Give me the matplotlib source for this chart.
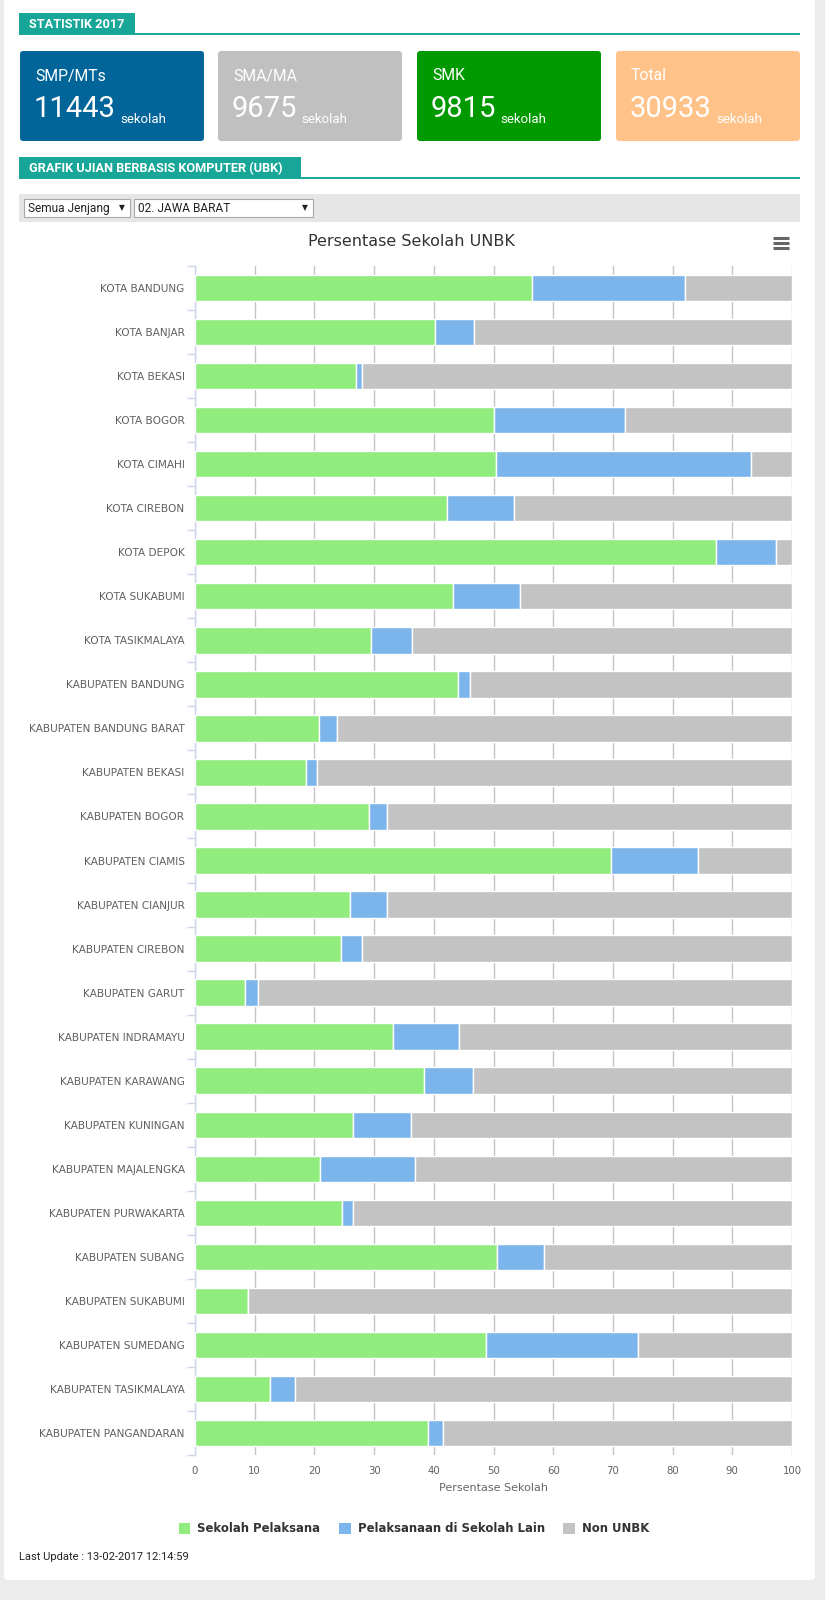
"""
Statistik 2017 dashboard: UNBK school percentage per kota/kabupaten (Jawa Barat).
Output: out.png (825 x 1600 px)
"""

import matplotlib
matplotlib.use("Agg")
import matplotlib.pyplot as plt
from matplotlib.patches import Rectangle, FancyBboxPatch
import numpy as np


W, H = 825, 1600

# summary boxes
BOX_LABELS = ["SMP/MTs", "SMA/MA", "SMK", "Total"]
BOX_VALUES = [11443, 9675, 9815, 30933]
BOX_COLORS = ["#02659a", "#c0c0c0", "#009a00", "#ffc288"]

CATEGORIES = [
    "KOTA BANDUNG", "KOTA BANJAR", "KOTA BEKASI", "KOTA BOGOR", "KOTA CIMAHI",
    "KOTA CIREBON", "KOTA DEPOK", "KOTA SUKABUMI", "KOTA TASIKMALAYA",
    "KABUPATEN BANDUNG", "KABUPATEN BANDUNG BARAT", "KABUPATEN BEKASI",
    "KABUPATEN BOGOR", "KABUPATEN CIAMIS", "KABUPATEN CIANJUR",
    "KABUPATEN CIREBON", "KABUPATEN GARUT", "KABUPATEN INDRAMAYU",
    "KABUPATEN KARAWANG", "KABUPATEN KUNINGAN", "KABUPATEN MAJALENGKA",
    "KABUPATEN PURWAKARTA", "KABUPATEN SUBANG", "KABUPATEN SUKABUMI",
    "KABUPATEN SUMEDANG", "KABUPATEN TASIKMALAYA", "KABUPATEN PANGANDARAN",
]

# percentages
SEKOLAH_PELAKSANA = [
    56.4, 40.2, 27.0, 50.0, 50.5, 42.2, 87.2, 43.2, 29.5,
    44.0, 20.8, 18.6, 29.2, 69.6, 26.0, 24.4, 8.3, 33.1,
    38.4, 26.4, 20.9, 24.7, 50.6, 8.9, 48.8, 12.6, 39.0,
]
PELAKSANAAN_LAIN = [
    25.7, 6.5, 0.9, 22.1, 42.6, 11.2, 10.1, 11.2, 6.8,
    2.0, 3.0, 1.8, 2.9, 14.7, 6.1, 3.5, 2.3, 11.2,
    8.1, 9.7, 15.9, 1.7, 7.8, 0.0, 25.4, 4.2, 2.5,
]
NON_UNBK = [round(100 - a - b, 1) for a, b in zip(SEKOLAH_PELAKSANA, PELAKSANAAN_LAIN)]

SERIES_NAMES = ["Sekolah Pelaksana", "Pelaksanaan di Sekolah Lain", "Non UNBK"]
SERIES_COLORS = ["#90ed7d", "#7cb5ec", "#c3c3c3"]
X_TICKS = list(range(0, 101, 10))

TEAL = "#17a697"


def fx(px):
    return px / W


def fy(py):
    return 1 - py / H


def draw_page(bg):
    # white panel
    bg.add_patch(FancyBboxPatch((4, -10), 811, 1590, boxstyle="round,pad=0,rounding_size=4",
                                facecolor="white", edgecolor="none"))

    # section headers
    for text, x0, x1, y0, y1 in [("STATISTIK 2017", 19, 135, 13, 34),
                                 ("GRAFIK UJIAN BERBASIS KOMPUTER (UBK)", 19, 301, 157, 178)]:
        bg.add_patch(Rectangle((x0, y0), x1 - x0, y1 - y0, facecolor=TEAL, edgecolor="none"))
        bg.plot([x0, 800], [y1, y1], color=TEAL, lw=1.4, solid_capstyle="butt")
        bg.text(x0 + 10, (y0 + y1) / 2 + 1, text, color="white", fontsize=9.2,
                fontweight="bold", family="Roboto", va="center", ha="left")

    # summary boxes
    lefts = [20, 218, 417, 616]
    for left, label, value, color in zip(lefts, BOX_LABELS, BOX_VALUES, BOX_COLORS):
        bg.add_patch(FancyBboxPatch((left, 51), 184, 90, boxstyle="round,pad=0,rounding_size=3",
                                    facecolor=color, edgecolor="none"))
        bg.text(left + 15, 76, label, color="white", fontsize=11.3, family="Roboto",
                va="center", ha="left")
        num = bg.text(left + 14, 117, str(value), color="white", fontsize=21,
                      family="Roboto", va="baseline", ha="left")
        bg.annotate("sekolah", xy=(1, 0), xycoords=num, xytext=(3, 0),
                    textcoords="offset points", color="white", fontsize=9.5,
                    family="Roboto", va="baseline", ha="left")

    # filter bar with dropdowns
    bg.add_patch(Rectangle((19, 194), 781, 28, facecolor="#e6e6e6", edgecolor="none"))
    for x0, x1, text in [(24, 130, "Semua Jenjang"), (134, 313, "02. JAWA BARAT")]:
        bg.add_patch(Rectangle((x0, 199), x1 - x0, 18, facecolor="white",
                               edgecolor="#a9a9a9", lw=0.8))
        bg.text(x0 + 4, 208.5, text, fontsize=8.6, family="Roboto", color="#222222",
                va="center", ha="left")
        bg.text(x1 - 5, 208, "\u25bc", fontsize=5.5, color="#222222", va="center", ha="right")

    # chart title and menu icon
    bg.text(411, 241, "Persentase Sekolah UNBK", fontsize=11.5, color="#333333",
            ha="center", va="center")
    for y in [238, 243, 248]:
        bg.plot([773, 789], [y, y], color="#666666", lw=2.2, solid_capstyle="butt")

    bg.text(19, 1557, "Last Update : 13-02-2017 12:14:59", fontsize=8, color="#222222",
            ha="left", va="center", family="Roboto")


def draw_chart(fig):
    ax = fig.add_axes([fx(195), fy(1455), fx(792 - 195), (1455 - 266) / H])
    y = np.arange(len(CATEGORIES))
    left = np.zeros(len(CATEGORIES))
    handles = []
    for name, values, color in zip(SERIES_NAMES,
                                   [SEKOLAH_PELAKSANA, PELAKSANAAN_LAIN, NON_UNBK],
                                   SERIES_COLORS):
        vals = np.array(values)
        bars = ax.barh(y, vals, left=left, height=0.6, color=color,
                       edgecolor="white", linewidth=1, label=name, zorder=3)
        handles.append(bars)
        left = left + vals

    ax.set_xlim(0, 100)
    ax.set_ylim(len(CATEGORIES) - 0.5, -0.5)
    ax.set_xticks(X_TICKS)
    ax.set_xticklabels([str(t) for t in X_TICKS])
    ax.set_yticks(y)
    ax.set_yticklabels(CATEGORIES)
    ax.set_yticks(np.arange(-0.5, len(CATEGORIES), 1), minor=True)

    ax.grid(axis="x", color="#c4c4c4", lw=1, zorder=0)
    ax.set_axisbelow(True)
    for side in ["top", "right", "bottom"]:
        ax.spines[side].set_visible(False)
    ax.spines["left"].set_color("#ccd6eb")
    ax.spines["left"].set_linewidth(1)

    ax.tick_params(axis="y", which="major", length=0, pad=7.5, labelsize=7.6,
                   labelcolor="#606060")
    ax.tick_params(axis="y", which="minor", length=6, width=1, color="#ccd6eb")
    ax.tick_params(axis="x", length=0, pad=8, labelsize=7.3, labelcolor="#606060")
    ax.set_xlabel("Persentase Sekolah", fontsize=8, color="#666666", labelpad=5)

    leg = fig.legend(handles=handles, labels=SERIES_NAMES, loc="center",
                     bbox_to_anchor=(fx(414), fy(1529)), ncol=3, frameon=False,
                     handlelength=1.0, handleheight=1.0, handletextpad=0.6,
                     columnspacing=1.6, prop={"size": 8.4, "weight": "bold"})
    for text in leg.get_texts():
        text.set_color("#333333")
    for patch in leg.get_patches():
        patch.set_edgecolor("none")
    return ax


def main():
    fig = plt.figure(figsize=(W / 100, H / 100), dpi=100, facecolor="#ececec")
    bg = fig.add_axes([0, 0, 1, 1])
    bg.set_xlim(0, W)
    bg.set_ylim(H, 0)
    bg.axis("off")

    draw_page(bg)
    draw_chart(fig)

    fig.savefig("out.png", dpi=100, facecolor=fig.get_facecolor())
    plt.close(fig)


if __name__ == "__main__":
    main()
